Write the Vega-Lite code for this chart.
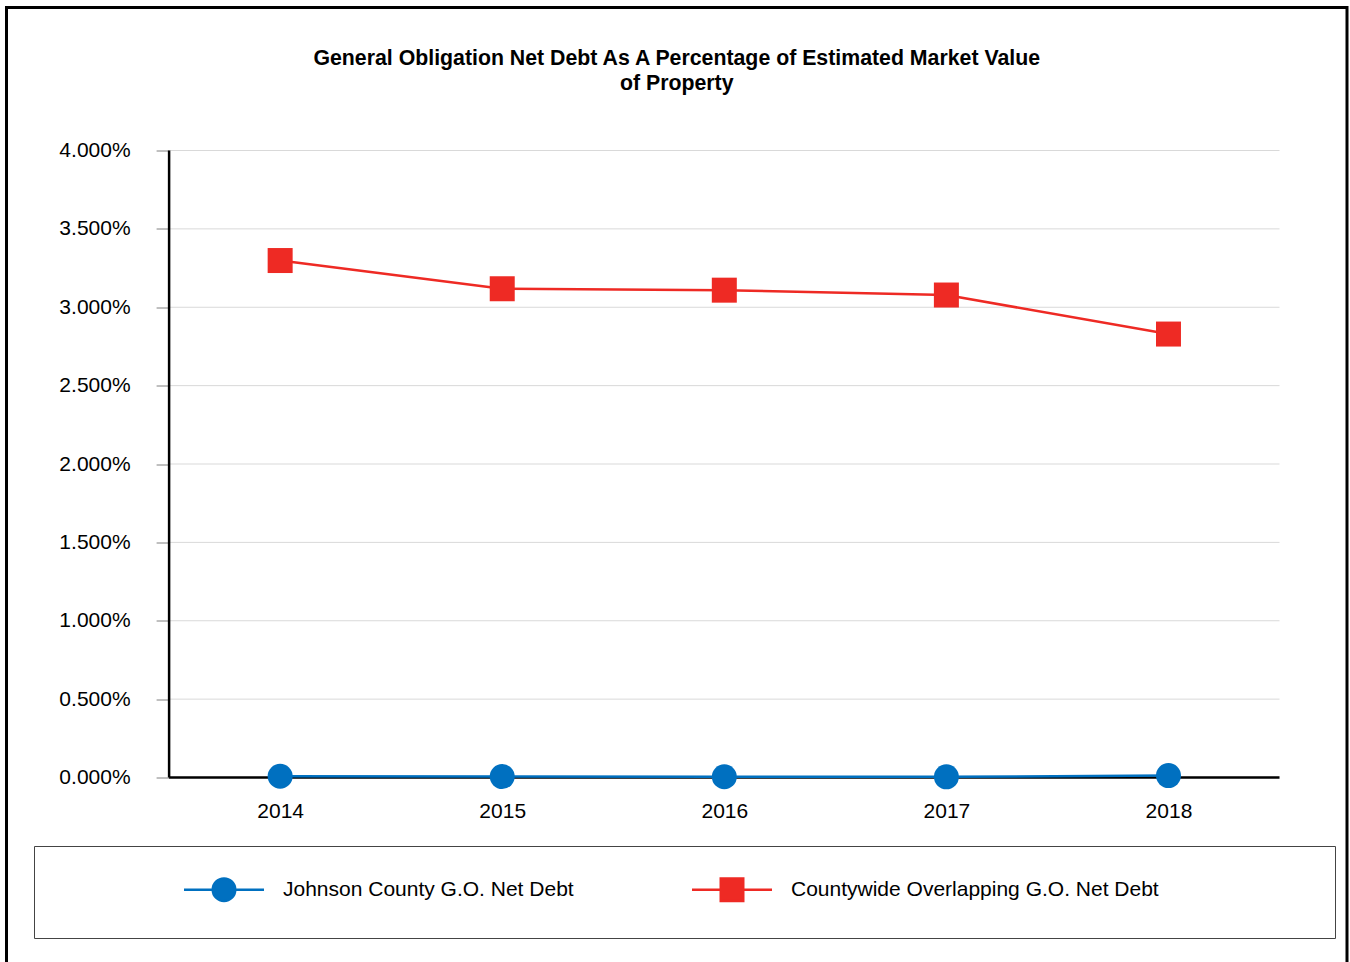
{
  "$schema": "https://vega.github.io/schema/vega-lite/v6.json",
  "width": 1340.5,
  "height": 958.5,
  "autosize": "none",
  "padding": {"left": 6.5, "top": 7.5, "right": 3, "bottom": 0},
  "background": "white",
  "config": {
    "view": {"stroke": "#000", "strokeWidth": 3},
    "font": "Liberation Sans"
  },
  "title": {
    "text": ["General Obligation Net Debt As A Percentage of Estimated Market Value", "of Property"],
    "font": "Liberation Sans",
    "fontSize": 21.3,
    "fontWeight": "bold",
    "color": "#000",
    "anchor": "middle",
    "frame": "group",
    "lineHeight": 25,
    "offset": -87
  },
  "data": {
    "values": [
      {"year": 2014, "series": "Johnson County G.O. Net Debt", "value": 0.00008},
      {"year": 2015, "series": "Johnson County G.O. Net Debt", "value": 0.00006},
      {"year": 2016, "series": "Johnson County G.O. Net Debt", "value": 0.00005},
      {"year": 2017, "series": "Johnson County G.O. Net Debt", "value": 0.00004},
      {"year": 2018, "series": "Johnson County G.O. Net Debt", "value": 0.00012},
      {"year": 2014, "series": "Countywide Overlapping G.O. Net Debt", "value": 0.03298},
      {"year": 2015, "series": "Countywide Overlapping G.O. Net Debt", "value": 0.03118},
      {"year": 2016, "series": "Countywide Overlapping G.O. Net Debt", "value": 0.03109},
      {"year": 2017, "series": "Countywide Overlapping G.O. Net Debt", "value": 0.03078},
      {"year": 2018, "series": "Countywide Overlapping G.O. Net Debt", "value": 0.02829}
    ]
  },
  "layer": [
    {
      "mark": {"type": "point", "opacity": 0},
      "encoding": {
        "x": {
          "field": "year", "type": "quantitative",
          "scale": {"domain": [2012.76779, 2018.8039], "nice": false, "zero": false},
          "axis": {
            "orient": "bottom", "offset": -188.5, "title": null,
            "values": [2014, 2015, 2016, 2017, 2018], "format": "d",
            "domain": false, "grid": false, "ticks": false, "tickSize": 0,
            "labelPadding": 23, "labelFontSize": 21, "labelFont": "Liberation Sans",
            "labelColor": "#000", "labelFlush": false, "labelOverlap": false
          }
        },
        "y": {
          "field": "value", "type": "quantitative",
          "scale": {"domain": [-0.0120255, 0.0491228], "nice": false, "zero": false},
          "axis": {
            "orient": "left", "offset": -162.6, "title": null,
            "values": [0, 0.005, 0.01, 0.015, 0.02, 0.025, 0.03, 0.035, 0.04],
            "format": ".3%", "domain": false, "grid": false,
            "tickSize": 13, "tickColor": "#808080", "tickWidth": 1,
            "labelPadding": 26, "labelFontSize": 21, "labelFont": "Liberation Sans",
            "labelColor": "#000", "labelFlush": false, "labelOverlap": false
          }
        }
      }
    },
    {
      "data": {"values": [{"g": 0.005}, {"g": 0.01}, {"g": 0.015}, {"g": 0.02}, {"g": 0.025}, {"g": 0.03}, {"g": 0.035}, {"g": 0.04}]},
      "mark": {"type": "rule", "color": "#d9d9d9", "strokeWidth": 1},
      "encoding": {
        "y": {"field": "g", "type": "quantitative", "title": null},
        "x": {"datum": 2013.5, "type": "quantitative", "title": null},
        "x2": {"datum": 2018.5}
      }
    },
    {
      "data": {"values": [{"axis": "y"}]},
      "mark": {"type": "rule", "color": "#000", "strokeWidth": 2.5},
      "encoding": {
        "x": {"datum": 2013.5, "type": "quantitative", "title": null},
        "y": {"datum": 0, "type": "quantitative", "title": null},
        "y2": {"datum": 0.04}
      }
    },
    {
      "data": {"values": [{"axis": "x"}]},
      "mark": {"type": "rule", "color": "#000", "strokeWidth": 2.5},
      "encoding": {
        "y": {"datum": 0, "type": "quantitative", "title": null},
        "x": {"datum": 2013.5, "type": "quantitative", "title": null},
        "x2": {"datum": 2018.5}
      }
    },
    {
      "mark": {"type": "line", "strokeWidth": 2.5},
      "encoding": {
        "x": {"field": "year", "type": "quantitative", "title": null},
        "y": {"field": "value", "type": "quantitative", "title": null},
        "color": {
          "field": "series", "type": "nominal",
          "scale": {"domain": ["Johnson County G.O. Net Debt", "Countywide Overlapping G.O. Net Debt"], "range": ["#0070C0", "#EE2A24"]},
          "legend": {
            "orient": "none", "legendX": 27.5, "legendY": 838.5,
            "direction": "horizontal", "title": null,
            "strokeColor": "#444", "padding": 32,
            "labelFontSize": 21, "labelFont": "Liberation Sans", "labelColor": "#000",
            "symbolOffset": 146.5, "labelOffset": 47.5, "columnPadding": -32, "labelLimit": 1000,
            "symbolSize": 400, "symbolStrokeWidth": 2.5,
            "encode": {
              "symbols": {
                "update": {
                  "shape": {"signal": "datum.value === 'Johnson County G.O. Net Debt' ? 'M-4,0H4M1.125,0A1.125,1.125,0,1,1,-1.125,0A1.125,1.125,0,1,1,1.125,0Z' : 'M-4,0H4M-1.125,-1.125H1.125V1.125H-1.125ZM56.6,0'"},
                  "fill": {"scale": "color", "field": "value"},
                  "stroke": {"scale": "color", "field": "value"},
                  "strokeWidth": {"value": 2.5},
                  "opacity": {"value": 1},
                  "fillOpacity": {"value": 1}
                }
              }
            }
          }
        }
      }
    },
    {
      "transform": [{"filter": "datum.series === 'Johnson County G.O. Net Debt'"}],
      "mark": {"type": "point", "filled": true, "size": 625, "opacity": 1, "shape": "circle", "color": "#0070C0"},
      "encoding": {
        "x": {"field": "year", "type": "quantitative", "title": null},
        "y": {"field": "value", "type": "quantitative", "title": null}
      }
    },
    {
      "transform": [{"filter": "datum.series === 'Countywide Overlapping G.O. Net Debt'"}],
      "mark": {"type": "point", "filled": true, "size": 625, "opacity": 1, "shape": "square", "color": "#EE2A24"},
      "encoding": {
        "x": {"field": "year", "type": "quantitative", "title": null},
        "y": {"field": "value", "type": "quantitative", "title": null}
      }
    }
  ]
}
